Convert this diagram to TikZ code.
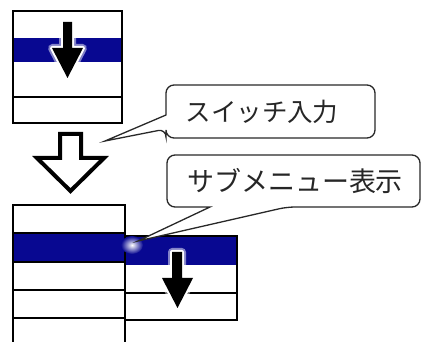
\documentclass[tikz,border=0pt]{standalone}
\usepackage{fontspec}
\newfontfamily\jp{Noto Sans CJK JP}
\definecolor{menublue}{RGB}{8,8,145}
\definecolor{calloutline}{RGB}{40,40,40}
\tikzset{
  menuline/.style={line width=2pt, draw=black},
  bluerow/.style={fill=menublue},
  glow/.style={draw=white, line width=8pt, line join=round, opacity=0.5},
  glowin/.style={draw=white, line width=4pt, line join=round},
  solidarrow/.style={fill=black},
  hollowarrow/.style={draw=black, fill=white, line width=4pt, line join=miter},
  callout/.style={draw=calloutline, fill=white, line width=1.3pt},
  callouttext/.style={font=\jp, text=black!85, inner sep=0pt, anchor=center},
}
\begin{document}
\begin{tikzpicture}[x=1pt,y=-1pt]
\useasboundingbox (0,0) rectangle (421,342);
% ---- top menu ----
\fill[bluerow] (13,38) rectangle (122,62);
\draw[menuline] (13,11) rectangle (122,123);
\draw[menuline] (13,97) -- (122,97);
\path[glow] (63,22) -- (72,22) -- (72,48) -- (83,48) -- (67.5,78) -- (52,48) -- (63,48) -- cycle;
\path[glowin] (63,22) -- (72,22) -- (72,48) -- (83,48) -- (67.5,78) -- (52,48) -- (63,48) -- cycle;
\fill[solidarrow] (63,22) -- (72,22) -- (72,48) -- (83,48) -- (67.5,78) -- (52,48) -- (63,48) -- cycle;
% ---- hollow arrow ----
\draw[hollowarrow] (60,134) -- (81,134) -- (81,158) -- (104,158) -- (70.5,191) -- (37,158) -- (60,158) -- cycle;
% ---- bottom menu ----
\fill[bluerow] (13,233) rectangle (125,262);
\fill[bluerow] (125,236) rectangle (237,265);
\draw[menuline] (13,345) -- (13,205) -- (125,205) -- (125,345);
\draw[menuline] (13,233) -- (125,233);
\draw[menuline] (13,262) -- (125,262);
\draw[menuline] (13,290) -- (125,290);
\draw[menuline] (13,318) -- (125,318);
\draw[menuline] (125,236) -- (237,236) -- (237,320) -- (125,320);
\draw[menuline] (125,293) -- (237,293);
\path[glow] (172,252) -- (182,252) -- (182,278) -- (193,278) -- (177.5,308) -- (162,278) -- (172,278) -- cycle;
\path[glowin] (172,252) -- (182,252) -- (182,278) -- (193,278) -- (177.5,308) -- (162,278) -- (172,278) -- cycle;
\fill[solidarrow] (172,252) -- (182,252) -- (182,278) -- (193,278) -- (177.5,308) -- (162,278) -- (172,278) -- cycle;
% ---- glow at the pointer tip ----
\begin{scope}
  \clip (13,232) rectangle (237,266);
  \shade[inner color=white, outer color=menublue] (132,245) ellipse (11 and 9);
\end{scope}
% ---- callouts ----
\draw[callout] (105,141) -- (166,115) [rounded corners=8] -- (166,85) -- (375,85) -- (375,138) -- (166,138) -- (166,129) [sharp corners] -- cycle;
\node[callouttext, font=\jp\fontsize{25.5}{26}\selectfont] (c1) at (262,112) {スイッチ入力};
\draw[callout] (138,241) -- (210,207) [rounded corners=8] -- (167,207) -- (167,155) -- (420,155) -- (420,207) -- (287,207) [sharp corners] -- cycle;
\node[callouttext, font=\jp\fontsize{27}{28}\selectfont] (c2) at (295,181) {サブメニュー表示};
\end{tikzpicture}
\end{document}
